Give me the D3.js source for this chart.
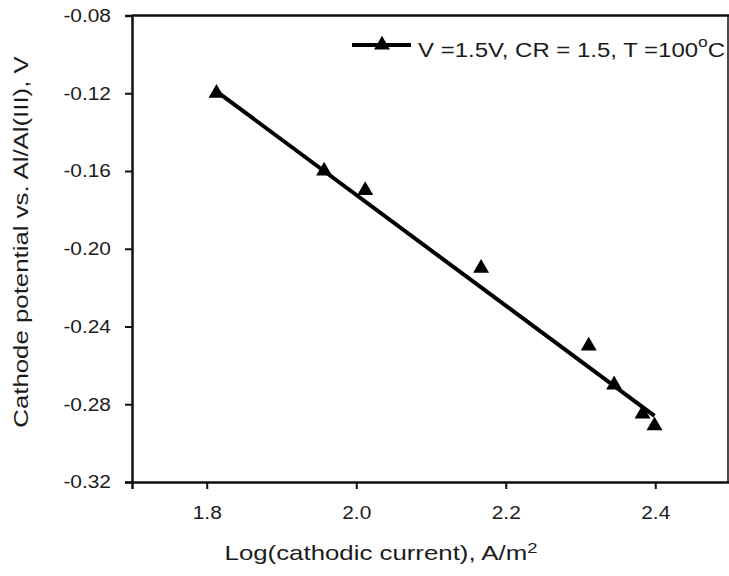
<!DOCTYPE html>
<html>
<head>
<meta charset="utf-8">
<script src="https://cdn.jsdelivr.net/npm/d3@7"></script>
<style>
  html, body { margin: 0; padding: 0; background: #fff; }
  svg { display: block; font-family: "Liberation Sans", Arial, sans-serif; }
</style>
</head>
<body>
<svg id="chart" width="729" height="576"></svg>
<script>
// Measured cathode potential against log of cathodic current density
const logCurrent = [1.813, 1.957, 2.012, 2.167, 2.311, 2.345, 2.383, 2.399];
const potential  = [-0.120, -0.160, -0.170, -0.210, -0.250, -0.270, -0.285, -0.291];

// Fitted straight line (end points)
const fitX = [1.813, 2.399];
const fitY = [-0.119, -0.286];

const xTicks = [1.8, 2.0, 2.2, 2.4];
const yTicks = [-0.08, -0.12, -0.16, -0.20, -0.24, -0.28, -0.32];

const xTitle = "Log(cathodic current), A/m";
const yTitle = "Cathode potential vs. Al/Al(III), V";
const legendLabel = "V =1.5V, CR = 1.5, T =100";

const svg = d3.select("#chart");
const plotLeft = 132, plotRight = 730, plotTop = 15.5, plotBottom = 482;

const x = d3.scaleLinear().domain([1.7, 2.5]).range([plotLeft, plotRight]);
const y = d3.scaleLinear().domain([-0.32, -0.08]).range([plotBottom, plotTop]);

const ink = "#111";
const textInk = "#1c1c1c";
const tickStretch = 1.13;   // wide sans lettering
const titleStretch = 1.23;

// Axes
const xAxis = svg.append("g")
  .attr("transform", `translate(0,${plotBottom})`)
  .call(d3.axisBottom(x).tickValues(xTicks).tickFormat(d3.format(".1f")).tickSizeOuter(0).tickSize(7));
const yAxis = svg.append("g")
  .attr("transform", `translate(${plotLeft},0)`)
  .call(d3.axisLeft(y).tickValues(yTicks).tickSizeOuter(0).tickSize(7));

[xAxis, yAxis].forEach(g => {
  g.select(".domain").attr("stroke", ink).attr("stroke-width", 2.5);
  g.selectAll(".tick line").attr("stroke", ink).attr("stroke-width", 2);
  g.selectAll(".tick text").attr("fill", textInk).style("font-size", "18.5px")
    .style("font-family", "'Liberation Sans', Arial, sans-serif");
});
xAxis.selectAll(".tick text")
  .attr("y", 37).attr("dy", null)
  .attr("transform", `scale(${tickStretch},1)`);
yAxis.selectAll(".tick text")
  .text(d => d3.format(".2f")(d).replace("\u2212", "-"))
  .attr("x", -18.6)
  .attr("transform", `scale(${tickStretch},1)`);

// Top and right frame lines
svg.append("line").attr("x1", plotLeft).attr("x2", plotRight).attr("y1", plotTop).attr("y2", plotTop)
  .attr("stroke", ink).attr("stroke-width", 2.5);
svg.append("line").attr("x1", 728).attr("x2", 728).attr("y1", plotTop).attr("y2", plotBottom)
  .attr("stroke", ink).attr("stroke-width", 1.5);

// Fitted line
svg.append("path")
  .datum(fitX.map((v, i) => [v, fitY[i]]))
  .attr("fill", "none").attr("stroke", "#000").attr("stroke-width", 4)
  .attr("d", d3.line().x(d => x(d[0])).y(d => y(d[1])));

// Triangle markers
const tri = d3.symbol().type(d3.symbolTriangle).size(110);
svg.append("g").selectAll("path")
  .data(logCurrent.map((v, i) => [v, potential[i]]))
  .join("path")
  .attr("transform", d => `translate(${x(d[0])},${y(d[1])})`)
  .attr("d", tri)
  .attr("fill", "#000");

// Legend
const lg = svg.append("g");
lg.append("line").attr("x1", 352).attr("x2", 411).attr("y1", 45).attr("y2", 45)
  .attr("stroke", "#000").attr("stroke-width", 4);
lg.append("path").attr("transform", "translate(382,45)").attr("d", tri).attr("fill", "#000");
const lt = lg.append("text")
  .attr("transform", "translate(418,57) scale(1.17,1)")
  .attr("fill", textInk).style("font-size", "20.5px");
lt.append("tspan").text(legendLabel);
lt.append("tspan").attr("dy", -10).style("font-size", "15px").text("o");
lt.append("tspan").attr("dy", 10).text("C");

// Axis titles
const xt = svg.append("text")
  .attr("transform", `translate(381,560) scale(${titleStretch},1)`)
  .attr("text-anchor", "middle")
  .attr("fill", textInk).style("font-size", "21px");
xt.append("tspan").text(xTitle);
xt.append("tspan").attr("dy", -7).style("font-size", "15px").text("2");

svg.append("text")
  .attr("transform", `translate(28,242) rotate(-90) scale(${titleStretch},1)`)
  .attr("text-anchor", "middle")
  .attr("fill", textInk).style("font-size", "21px")
  .text(yTitle);
</script>
</body>
</html>
